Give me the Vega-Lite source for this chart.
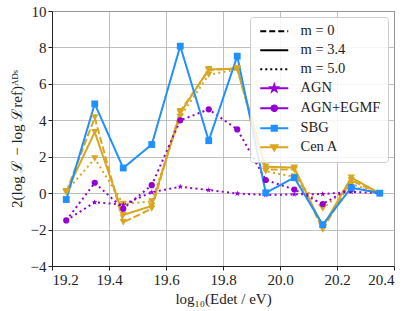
{
  "$schema": "https://vega.github.io/schema/vega-lite/v6.json",
  "width": 342,
  "height": 255,
  "autosize": {"type": "none"},
  "padding": {"left": 52, "top": 11, "right": 19, "bottom": 45},
  "config": {
    "font": "Liberation Serif",
    "view": {"stroke": "#333", "strokeWidth": 1},
    "axis": {
      "labelFont": "Liberation Serif", "titleFont": "Liberation Serif",
      "labelFontSize": 15, "titleFontSize": 15, "titleFontWeight": "normal",
      "labelColor": "#222", "titleColor": "#222", "domainColor": "#222", "tickColor": "#222",
      "gridColor": "#b0b0b0", "gridWidth": 0.8, "tickSize": 4
    },
    "legend": {"labelFont": "Liberation Serif", "labelFontSize": 14.5, "labelColor": "#222"}
  },
  "data": {
    "values": [
      {"x": 19.25, "model": "Cen A", "m": "0", "v": 0.05},
      {"x": 19.35, "model": "Cen A", "m": "0", "v": 4.15},
      {"x": 19.45, "model": "Cen A", "m": "0", "v": -1.6},
      {"x": 19.55, "model": "Cen A", "m": "0", "v": -0.85},
      {"x": 19.65, "model": "Cen A", "m": "0", "v": 4.5},
      {"x": 19.75, "model": "Cen A", "m": "0", "v": 6.75},
      {"x": 19.85, "model": "Cen A", "m": "0", "v": 6.85},
      {"x": 19.95, "model": "Cen A", "m": "0", "v": 1.3},
      {"x": 20.05, "model": "Cen A", "m": "0", "v": 1.3},
      {"x": 20.15, "model": "Cen A", "m": "0", "v": -2.0},
      {"x": 20.25, "model": "Cen A", "m": "0", "v": 0.7},
      {"x": 20.35, "model": "Cen A", "m": "0", "v": 0.0},

      {"x": 19.25, "model": "Cen A", "m": "3.4", "v": 0.05},
      {"x": 19.35, "model": "Cen A", "m": "3.4", "v": 3.35},
      {"x": 19.45, "model": "Cen A", "m": "3.4", "v": -1.2},
      {"x": 19.55, "model": "Cen A", "m": "3.4", "v": -0.7},
      {"x": 19.65, "model": "Cen A", "m": "3.4", "v": 4.4},
      {"x": 19.75, "model": "Cen A", "m": "3.4", "v": 6.8},
      {"x": 19.85, "model": "Cen A", "m": "3.4", "v": 6.83},
      {"x": 19.95, "model": "Cen A", "m": "3.4", "v": 1.45},
      {"x": 20.05, "model": "Cen A", "m": "3.4", "v": 1.4},
      {"x": 20.15, "model": "Cen A", "m": "3.4", "v": -1.85},
      {"x": 20.25, "model": "Cen A", "m": "3.4", "v": 0.85},
      {"x": 20.35, "model": "Cen A", "m": "3.4", "v": 0.0},

      {"x": 19.25, "model": "Cen A", "m": "5.0", "v": 0.1},
      {"x": 19.35, "model": "Cen A", "m": "5.0", "v": 1.9},
      {"x": 19.45, "model": "Cen A", "m": "5.0", "v": -0.6},
      {"x": 19.55, "model": "Cen A", "m": "5.0", "v": -0.45},
      {"x": 19.65, "model": "Cen A", "m": "5.0", "v": 4.2},
      {"x": 19.75, "model": "Cen A", "m": "5.0", "v": 6.5},
      {"x": 19.85, "model": "Cen A", "m": "5.0", "v": 6.8},
      {"x": 19.95, "model": "Cen A", "m": "5.0", "v": 1.2},
      {"x": 20.05, "model": "Cen A", "m": "5.0", "v": 0.9},
      {"x": 20.15, "model": "Cen A", "m": "5.0", "v": -0.85},
      {"x": 20.25, "model": "Cen A", "m": "5.0", "v": 0.5},
      {"x": 20.35, "model": "Cen A", "m": "5.0", "v": 0.0},

      {"x": 19.25, "model": "AGN", "m": "5.0", "v": -1.5},
      {"x": 19.35, "model": "AGN", "m": "5.0", "v": -0.5},
      {"x": 19.45, "model": "AGN", "m": "5.0", "v": -0.63},
      {"x": 19.55, "model": "AGN", "m": "5.0", "v": 0.05},
      {"x": 19.65, "model": "AGN", "m": "5.0", "v": 0.35},
      {"x": 19.75, "model": "AGN", "m": "5.0", "v": 0.17},
      {"x": 19.85, "model": "AGN", "m": "5.0", "v": -0.02},
      {"x": 19.95, "model": "AGN", "m": "5.0", "v": -0.1},
      {"x": 20.05, "model": "AGN", "m": "5.0", "v": -0.07},
      {"x": 20.15, "model": "AGN", "m": "5.0", "v": -0.05},
      {"x": 20.25, "model": "AGN", "m": "5.0", "v": 0.07},
      {"x": 20.35, "model": "AGN", "m": "5.0", "v": 0.0},

      {"x": 19.25, "model": "AGN+EGMF", "m": "5.0", "v": -1.5},
      {"x": 19.35, "model": "AGN+EGMF", "m": "5.0", "v": 0.57},
      {"x": 19.45, "model": "AGN+EGMF", "m": "5.0", "v": -0.85},
      {"x": 19.55, "model": "AGN+EGMF", "m": "5.0", "v": 0.44},
      {"x": 19.65, "model": "AGN+EGMF", "m": "5.0", "v": 4.0},
      {"x": 19.75, "model": "AGN+EGMF", "m": "5.0", "v": 4.6},
      {"x": 19.85, "model": "AGN+EGMF", "m": "5.0", "v": 3.5},
      {"x": 19.95, "model": "AGN+EGMF", "m": "5.0", "v": 0.72},
      {"x": 20.05, "model": "AGN+EGMF", "m": "5.0", "v": 0.2},
      {"x": 20.15, "model": "AGN+EGMF", "m": "5.0", "v": -0.6},
      {"x": 20.25, "model": "AGN+EGMF", "m": "5.0", "v": 0.33},
      {"x": 20.35, "model": "AGN+EGMF", "m": "5.0", "v": 0.0},

      {"x": 19.25, "model": "SBG", "m": "3.4", "v": -0.35},
      {"x": 19.35, "model": "SBG", "m": "3.4", "v": 4.9},
      {"x": 19.45, "model": "SBG", "m": "3.4", "v": 1.38},
      {"x": 19.55, "model": "SBG", "m": "3.4", "v": 2.67},
      {"x": 19.65, "model": "SBG", "m": "3.4", "v": 8.07},
      {"x": 19.75, "model": "SBG", "m": "3.4", "v": 2.88},
      {"x": 19.85, "model": "SBG", "m": "3.4", "v": 7.52},
      {"x": 19.95, "model": "SBG", "m": "3.4", "v": 0.02},
      {"x": 20.05, "model": "SBG", "m": "3.4", "v": 0.85},
      {"x": 20.15, "model": "SBG", "m": "3.4", "v": -1.73},
      {"x": 20.25, "model": "SBG", "m": "3.4", "v": 0.3},
      {"x": 20.35, "model": "SBG", "m": "3.4", "v": 0.0}
    ]
  },
  "encoding": {
    "x": {
      "field": "x", "type": "quantitative",
      "scale": {"domain": [19.2, 20.4], "nice": false, "zero": false},
      "axis": {"values": [19.2, 19.4, 19.6, 19.8, 20.0, 20.2, 20.4], "format": ".1f", "title": "log₁₀(Edet / eV)", "titlePadding": 4, "labelPadding": 2}
    },
    "y": {
      "field": "v", "type": "quantitative",
      "scale": {"domain": [-4, 10], "nice": false, "zero": false},
      "axis": {"values": [-4, -2, 0, 2, 4, 6, 8, 10], "format": "d", "title": "2(log ℒ − log ℒref)ᴬᴰˢ", "titlePadding": 6, "labelPadding": 2}
    },
    "color": {
      "field": "model", "type": "nominal",
      "scale": {
        "domain": ["m = 0", "m = 3.4", "m = 5.0", "AGN", "AGN+EGMF", "SBG", "Cen A"],
        "range": ["#000000", "#000000", "#000000", "#9400d3", "#9400d3", "#1e90ff", "#daa520"]
      },
      "legend": {
        "title": null, "orient": "top-right", "offset": 6,
        "values": ["m = 0", "m = 3.4", "m = 5.0", "AGN", "AGN+EGMF", "SBG", "Cen A"],
        "labelFont": "Liberation Serif", "labelFontSize": 14.5, "labelColor": "#222",
        "symbolSize": 64, "symbolOffset": 10, "labelOffset": 19,
        "rowPadding": 4, "padding": 7,
        "fillColor": "rgba(255,255,255,0.85)", "strokeColor": "#cccccc", "cornerRadius": 3,
        "encode": {
          "symbols": {
            "update": {
              "shape": {"signal": "datum.value == 'AGN' ? 'M-3.5,0H3.5M0,-0.85L0.19,-0.26L0.81,-0.26L0.31,0.1L0.5,0.69L0,0.32L-0.5,0.69L-0.31,0.1L-0.81,-0.26L-0.19,-0.26Z' : datum.value == 'AGN+EGMF' ? 'M-3.5,0H3.5M0.7,0A0.7,0.7,0,1,1,-0.7,0A0.7,0.7,0,1,1,0.7,0Z' : datum.value == 'SBG' ? 'M-3.5,0H3.5M-0.65,-0.65H0.65V0.65H-0.65Z' : datum.value == 'Cen A' ? 'M-3.5,0H3.5M-0.8,-0.5H0.8L0,0.8Z' : 'M-3.5,0H3.5'"},
              "fill": {"signal": "datum.value == 'SBG' ? '#1e90ff' : datum.value == 'Cen A' ? '#daa520' : (datum.value == 'AGN' || datum.value == 'AGN+EGMF') ? '#9400d3' : 'transparent'"},
              "stroke": {"signal": "datum.value == 'SBG' ? '#1e90ff' : datum.value == 'Cen A' ? '#daa520' : (datum.value == 'AGN' || datum.value == 'AGN+EGMF') ? '#9400d3' : '#000000'"},
              "strokeWidth": {"value": 2},
              "strokeDash": {"signal": "datum.value == 'm = 0' ? [6, 3] : datum.value == 'm = 5.0' ? [2, 3] : [1, 0]"},
              "opacity": {"value": 1}
            }
          }
        }
      }
    }
  },
  "layer": [
    {
      "mark": {"type": "line", "strokeWidth": 2},
      "encoding": {
        "strokeDash": {
          "field": "m", "type": "nominal",
          "scale": {"domain": ["0", "3.4", "5.0"], "range": [[7, 3], [1, 0], [2, 3.3]]},
          "legend": null
        }
      }
    },
    {
      "mark": {"type": "point", "filled": true, "opacity": 1},
      "encoding": {
        "shape": {
          "field": "model", "type": "nominal",
          "scale": {
            "domain": ["AGN", "AGN+EGMF", "SBG", "Cen A"],
            "range": ["M0,-1.1L0.247,-0.34L1.046,-0.34L0.4,0.13L0.647,0.89L0,0.42L-0.647,0.89L-0.4,0.13L-1.046,-0.34L-0.247,-0.34Z", "circle", "square", "triangle-down"]
          },
          "legend": null
        },
        "size": {
          "field": "model", "type": "nominal",
          "scale": {"domain": ["AGN", "AGN+EGMF", "SBG", "Cen A"], "range": [30, 55, 48, 60]},
          "legend": null
        }
      }
    }
  ]
}
